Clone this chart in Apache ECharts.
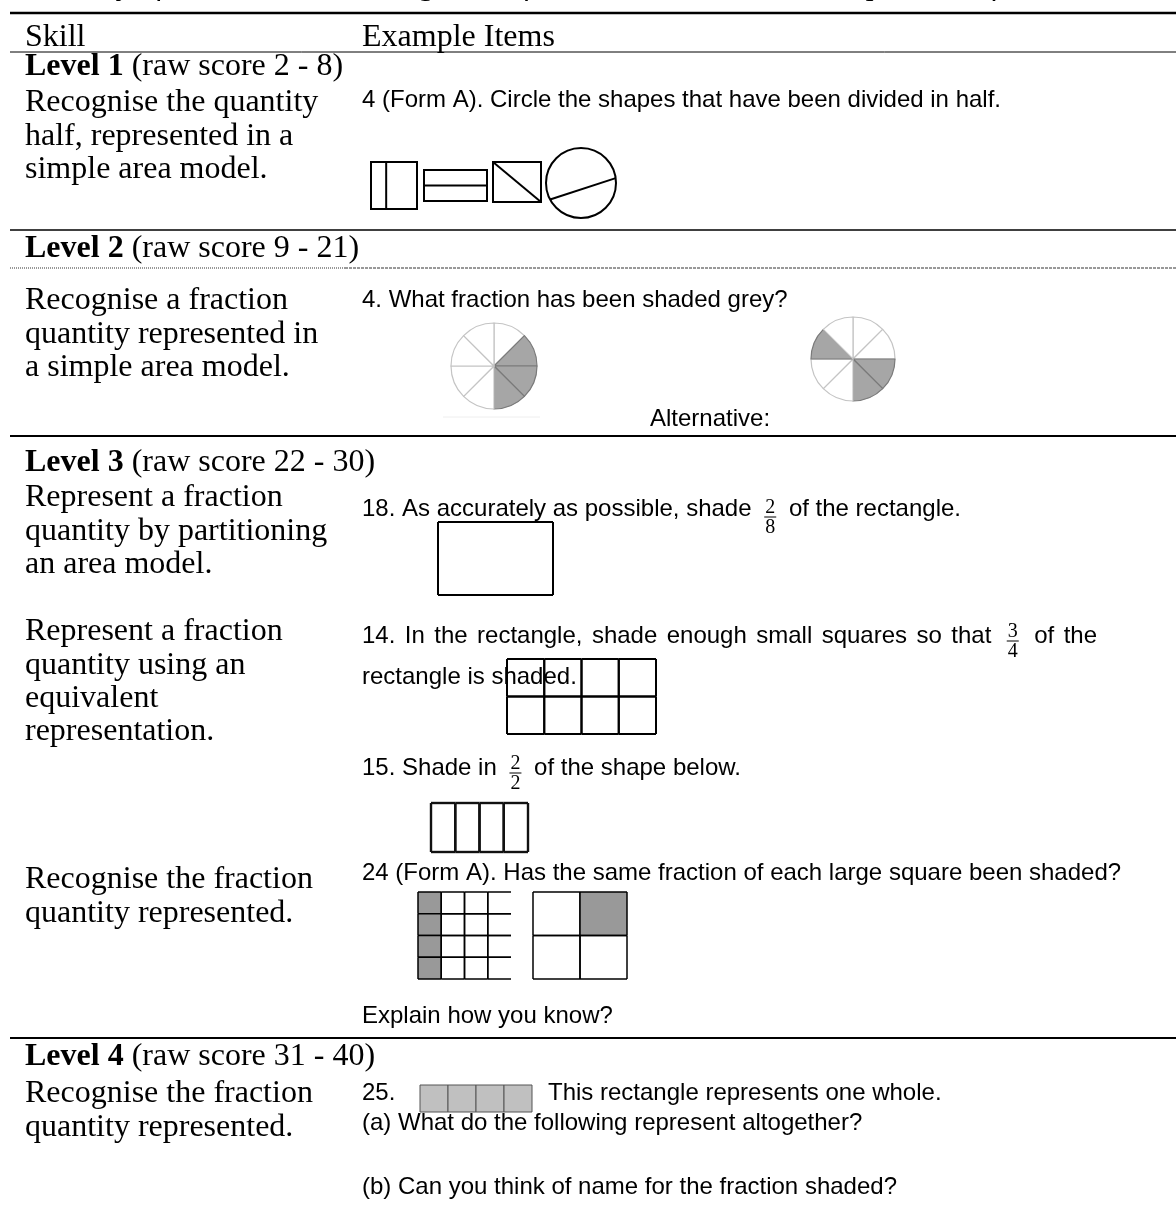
<!DOCTYPE html>
<html><head><meta charset="utf-8">
<script src="https://cdn.jsdelivr.net/npm/echarts@6/dist/echarts.min.js"></script>
<style>html,body{margin:0;padding:0;background:#fff}#c{width:1176px;height:1218px}</style>
</head><body><div id="c"></div>
<script>
// ---------- content ----------
const titleText = "Summary of Rasch Levels: Categories of Fraction Skills and Example Items from the Fraction Rating Scale";
const headerLabels = ["Skill", "Example Items"];
const levelNames = ["Level 1", "Level 2", "Level 3", "Level 4"];
const levelRanges = [" (raw score 2 - 8)", " (raw score 9 - 21)", " (raw score 22 - 30)", " (raw score 31 - 40)"];
const skillGroups = [
  ["Recognise the quantity", "half, represented in a", "simple area model."],
  ["Recognise a fraction", "quantity represented in", "a simple area model."],
  ["Represent a fraction", "quantity by partitioning", "an area model."],
  ["Represent a fraction", "quantity using an", "equivalent", "representation."],
  ["Recognise the fraction", "quantity represented."],
  ["Recognise the fraction", "quantity represented."]
];
const itemLines = [
  ["4 (Form A). Circle the shapes that have been divided in half."],
  ["4. What fraction has been shaded grey?"],
  ["Alternative:"],
  ["18. As accurately as possible, shade ", ["2", "8"], " of the rectangle."],
  ["14. In the rectangle, shade enough small squares so that ", ["3", "4"], " of the"],
  ["rectangle is shaded."],
  ["15. Shade in ", ["2", "2"], " of the shape below."],
  ["24 (Form A). Has the same fraction of each large square been shaded?"],
  ["Explain how you know?"],
  ["25."],
  ["This rectangle represents one whole."],
  ["(a) What do the following represent altogether?"],
  ["(b) Can you think of name for the fraction shaded?"]
];
// Level 1 shapes: how each one is cut
const halfShapeKinds = ["rect", "rect", "rect", "circle"];
const halfShapeCuts = ["v", "h", "diag", "chord"];
const halfShapeCutAt = [0.33, 0.5, 1, 0];
const chordAngles = [152, -8];
// Level 2 pies: eight equal parts, 1 = shaded grey
const pieParts = [1, 1, 1, 1, 1, 1, 1, 1];
const pieShadedA = [0, 1, 1, 1, 0, 0, 0, 0];
const pieShadedB = [0, 0, 1, 1, 0, 0, 1, 0];
// grid figures: columns, rows, shaded cells [col,row]
const gridCols = [1, 4, 4, 4, 2, 4];
const gridRows = [1, 2, 1, 4, 2, 1];
const gridShaded = [
  [],
  [],
  [],
  [[0, 0], [0, 1], [0, 2], [0, 3]],
  [[1, 0]],
  [[0, 0], [1, 0], [2, 0], [3, 0]]
];

// ---------- layout / style ----------
const SERIF = '"Liberation Serif", "Times New Roman", serif';
const SANS = '"Liberation Sans", Arial, sans-serif';
const serifFont = (w, s, st) => `${st || 'normal'} ${w} ${s}px ${SERIF}`;
const sansFont = s => `normal normal ${s}px ${SANS}`;
const SF = serifFont('normal', 32), SFB = serifFont('bold', 32), AF = sansFont(24), FF = serifFont('normal', 20);
const mctx = document.createElement('canvas').getContext('2d');
function tw(t, f) { mctx.font = f; return mctx.measureText(t).width; }

const graphics = [];
function txt(t, x, y, font, align) {
  graphics.push({ type: 'text', silent: true, z: 1, style: { text: t, x, y, font, fill: '#000',
    textAlign: align || 'left', align: align || 'left', textVerticalAlign: 'middle', verticalAlign: 'middle' } });
}
function hline(x1, x2, y, w, dash, color) {
  graphics.push({ type: 'line', silent: true, shape: { x1, y1: y, x2, y2: y },
    style: { stroke: color || '#000', lineWidth: w, lineDash: dash || null } });
}
const FRAC_PAD = 6;
function itemLine(segs, x, y, barY, endX) {
  const toks = [];
  segs.forEach(s => {
    if (typeof s === 'string') {
      if (endX) s.split(/( )/).forEach(p => { if (p === ' ') toks.push({ t: 'sp' }); else if (p) toks.push({ t: 'w', s: p }); });
      else toks.push({ t: 'w', s });
    } else toks.push({ t: 'f', n: s[0], d: s[1] });
  });
  const spW = tw(' ', AF);
  const fw = k => Math.max(tw(k.n, FF), tw(k.d, FF)) + 2 + 2 * FRAC_PAD;
  let nat = 0, nsp = 0;
  toks.forEach(k => { if (k.t === 'w') nat += tw(k.s, AF); else if (k.t === 'sp') { nat += spW; nsp++; } else nat += fw(k); });
  const extra = endX && nsp ? (endX - x - nat) / nsp : 0;
  toks.forEach(k => {
    if (k.t === 'w') { txt(k.s, x, y, AF); x += tw(k.s, AF); }
    else if (k.t === 'sp') x += spW + extra;
    else {
      const w = fw(k), cx = x + w / 2;
      txt(k.n, cx, barY - 9, FF, 'center');
      txt(k.d, cx, barY + 11, FF, 'center');
      graphics.push({ type: 'line', silent: true, shape: { x1: x + FRAC_PAD, y1: barY, x2: x + w - FRAC_PAD, y2: barY }, style: { stroke: '#000', lineWidth: 1 } });
      x += w;
    }
  });
}

// title (cut off at the top)
txt(titleText, 12, -14, serifFont('normal', 32, 'italic'));
// rules
hline(10, 1176, 13, 2.5);
hline(10, 1176, 52, 1);
hline(10, 1176, 230, 1.6);
hline(10, 345, 268, 1, [1, 1], '#333');
hline(345, 1176, 268, 1, [3, 1], '#333');
hline(10, 1176, 436, 1.8);
hline(10, 1176, 1038, 1.8);
hline(443, 540, 417, 1, null, '#eeeeee');

// header
txt(headerLabels[0], 25, 38, SF);
txt(headerLabels[1], 362, 38, SF);
// levels
const levelY = [67, 249, 463, 1057];
levelNames.forEach((n, i) => {
  txt(n, 25, levelY[i], SFB);
  txt(levelRanges[i], 25 + tw(n, SFB), levelY[i], SF);
});
// skills
const skillY = [103, 301, 498, 632, 880, 1094];
skillGroups.forEach((g, i) => g.forEach((l, j) => txt(l, 25, skillY[i] + j * 33.3, SF)));
// items  [x, y, fraction bar y, justify-to x]
const itemPos = [[362, 100], [362, 300], [650, 419], [362, 509, 517], [362, 636, 641, 1097], [362, 677], [362, 768, 773],
  [362, 873], [362, 1016], [362, 1093], [548, 1093], [362, 1123], [362, 1187]];
itemLines.forEach((segs, i) => itemLine(segs, itemPos[i][0], itemPos[i][1], itemPos[i][2], itemPos[i][3]));

// ---------- figure grids ----------
const grids = [], xAxes = [], yAxes = [], series = [];
function addGrid(left, top, width, height, cols, rows) {
  const gi = grids.length;
  grids.push({ left, top, width, height, containLabel: false, show: false });
  xAxes.push({ type: 'value', gridIndex: gi, min: 0, max: cols, show: false });
  yAxes.push({ type: 'value', gridIndex: gi, min: 0, max: rows, inverse: true, show: false });
  return gi;
}
// level 1 shapes
const halfBoxes = [[371, 162, 46, 47], [424, 170, 63, 31], [493, 162, 48, 40], [546, 148, 70, 70]];
halfShapeKinds.forEach((kind, i) => {
  const b = halfBoxes[i];
  const gi = addGrid(b[0], b[1], b[2], b[3], 1, 1);
  series.push({
    type: 'custom', xAxisIndex: gi, yAxisIndex: gi, silent: true, clip: false, animation: false,
    data: [[0, 0]],
    renderItem: (params, api) => {
      const a = api.coord([0, 0]), c = api.coord([1, 1]);
      const x = a[0], y = a[1], w = c[0] - a[0], h = c[1] - a[1];
      const st = { stroke: '#000', lineWidth: 2, fill: null };
      const ch = [];
      if (kind === 'rect') {
        ch.push({ type: 'rect', shape: { x, y, width: w, height: h }, style: { stroke: '#000', lineWidth: 2, fill: '#fff' } });
        const cut = halfShapeCuts[i], at = halfShapeCutAt[i];
        if (cut === 'v') ch.push({ type: 'line', shape: { x1: x + w * at, y1: y, x2: x + w * at, y2: y + h }, style: st });
        if (cut === 'h') ch.push({ type: 'line', shape: { x1: x, y1: y + h * at, x2: x + w, y2: y + h * at }, style: st });
        if (cut === 'diag') ch.push({ type: 'line', shape: { x1: x, y1: y, x2: x + w, y2: y + h }, style: st });
      } else {
        const cx = x + w / 2, cy = y + h / 2, r = w / 2;
        ch.push({ type: 'circle', shape: { cx, cy, r }, style: { stroke: '#000', lineWidth: 2, fill: '#fff' } });
        const p = chordAngles.map(d => [cx + r * Math.cos(d * Math.PI / 180), cy + r * Math.sin(d * Math.PI / 180)]);
        ch.push({ type: 'line', shape: { x1: p[0][0], y1: p[0][1], x2: p[1][0], y2: p[1][1] }, style: st });
      }
      return { type: 'group', children: ch };
    }
  });
});

// grids of cells
const gridBoxes = [[438, 522, 115, 73], [507, 659, 149, 75], [431, 803, 97, 49], [418, 892, 93, 87], [533, 892, 94, 87], [420, 1085, 112, 27]];
const gridStyles = [
  { lw: 2, stroke: '#000', fill: '#999' },
  { lw: 2, stroke: '#000', fill: '#999' },
  { lw: 2.4, stroke: '#111', fill: '#999' },
  { lw: 1.5, stroke: '#000', fill: '#999999', openRight: true },
  { lw: 1.5, stroke: '#000', fill: '#999999' },
  { lw: 1, stroke: '#555', fill: '#c0c0c0' }
];
gridCols.forEach((cols, i) => {
  const rows = gridRows[i], b = gridBoxes[i], s = gridStyles[i];
  const gi = addGrid(b[0], b[1], b[2], b[3], cols, rows);
  const data = [];
  for (let r = 0; r < rows; r++) for (let c = 0; c < cols; c++) {
    const sh = gridShaded[i].some(p => p[0] === c && p[1] === r) ? 1 : 0;
    data.push([c, r, sh]);
  }
  series.push({
    type: 'custom', xAxisIndex: gi, yAxisIndex: gi, silent: true, clip: false, animation: false, z: 3,
    data,
    renderItem: (params, api) => {
      const c = api.value(0), r = api.value(1), sh = api.value(2);
      const p0 = api.coord([c, r]), p1 = api.coord([c + 1, r + 1]);
      const x = p0[0], y = p0[1], w = p1[0] - p0[0], h = p1[1] - p0[1];
      const st = { stroke: s.stroke, lineWidth: s.lw };
      const ch = [];
      if (sh) ch.push({ type: 'rect', shape: { x, y, width: w, height: h }, style: { fill: s.fill } });
      ch.push({ type: 'line', shape: { x1: x, y1: y, x2: x + w, y2: y }, style: st });
      ch.push({ type: 'line', shape: { x1: x, y1: y + h, x2: x + w, y2: y + h }, style: st });
      ch.push({ type: 'line', shape: { x1: x, y1: y, x2: x, y2: y + h }, style: st });
      if (!(s.openRight && c === cols - 1)) ch.push({ type: 'line', shape: { x1: x + w, y1: y, x2: x + w, y2: y + h }, style: st });
      return { type: 'group', children: ch };
    }
  });
});

// pies
function pieSeries(center, radius, shaded) {
  return {
    type: 'pie', center, radius, startAngle: 90, clockwise: true, silent: true, animation: false,
    label: { show: false }, labelLine: { show: false }, emphasis: { disabled: true },
    data: pieParts.map((v, k) => ({
      value: v,
      itemStyle: shaded[k] ? { color: '#a6a6a6', borderColor: '#7a7a7a', borderWidth: 1.2 }
                           : { color: '#ffffff', borderColor: '#c4c4c4', borderWidth: 1.2 }
    }))
  };
}
series.push(pieSeries([494, 366], 43, pieShadedA));
series.push(pieSeries([853, 359], 42, pieShadedB));

const chart = echarts.init(document.getElementById('c'), null, { renderer: 'canvas' });
chart.setOption({
  backgroundColor: '#ffffff',
  animation: false,
  grid: grids, xAxis: xAxes, yAxis: yAxes,
  series,
  graphic: { elements: graphics }
});
</script></body></html>
